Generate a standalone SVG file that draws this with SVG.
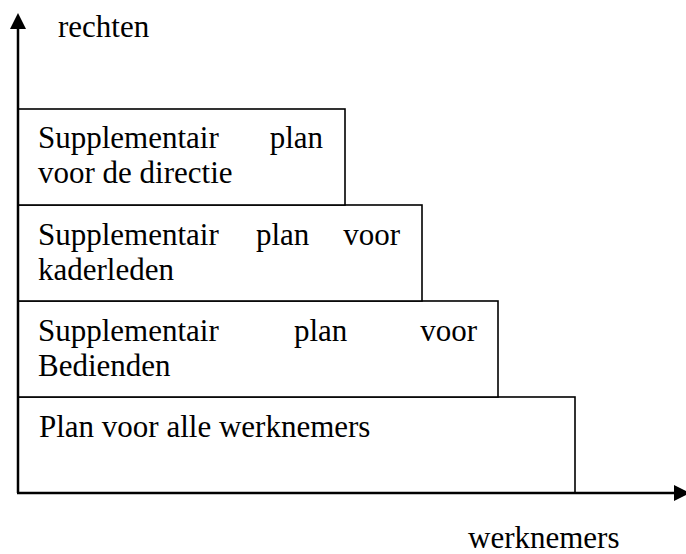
<svg xmlns="http://www.w3.org/2000/svg" width="686" height="554" viewBox="0 0 686 554">
<style>
.box{fill:#fff;stroke:#000;stroke-width:1.6}
.axis{stroke:#000;stroke-width:2.5;fill:none}
.e{text-anchor:end}
</style>
<defs>
<marker id="ah" viewBox="0 0 16 16" refX="0" refY="8" markerWidth="16" markerHeight="16" markerUnits="userSpaceOnUse" orient="auto">
<path d="M0,0 L16,8 L0,16 Z" fill="#000"/>
</marker>
</defs>
<g font-family="Liberation Serif, Times New Roman, Times, DejaVu Serif, serif" font-size="31" fill="#000">
<g id="box4"><rect class="box" x="18" y="397" width="557" height="96"/><text x="39" y="437">Plan voor alle werknemers</text></g>
<g id="box3"><rect class="box" x="18" y="301" width="480" height="96"/><text x="38" y="341">Supplementair</text><text x="294" y="341">plan</text><text class="e" x="477" y="341">voor</text><text x="38" y="376">Bedienden</text></g>
<g id="box2"><rect class="box" x="18" y="205" width="404" height="96"/><text x="38" y="245">Supplementair</text><text x="256" y="245">plan</text><text class="e" x="400" y="245">voor</text><text x="38" y="280">kaderleden</text></g>
<g id="box1"><rect class="box" x="18" y="109" width="327" height="96"/><text x="38" y="148">Supplementair</text><text class="e" x="323" y="148">plan</text><text x="38" y="183">voor de directie</text></g>
<g id="connectors">
<line class="axis" x1="18" y1="493" x2="18" y2="29" marker-end="url(#ah)"/>
<line class="axis" x1="17" y1="493" x2="674" y2="493" marker-end="url(#ah)"/>
</g>
<text x="58" y="37">rechten</text>
<text x="468" y="548">werknemers</text>
</g>
</svg>
